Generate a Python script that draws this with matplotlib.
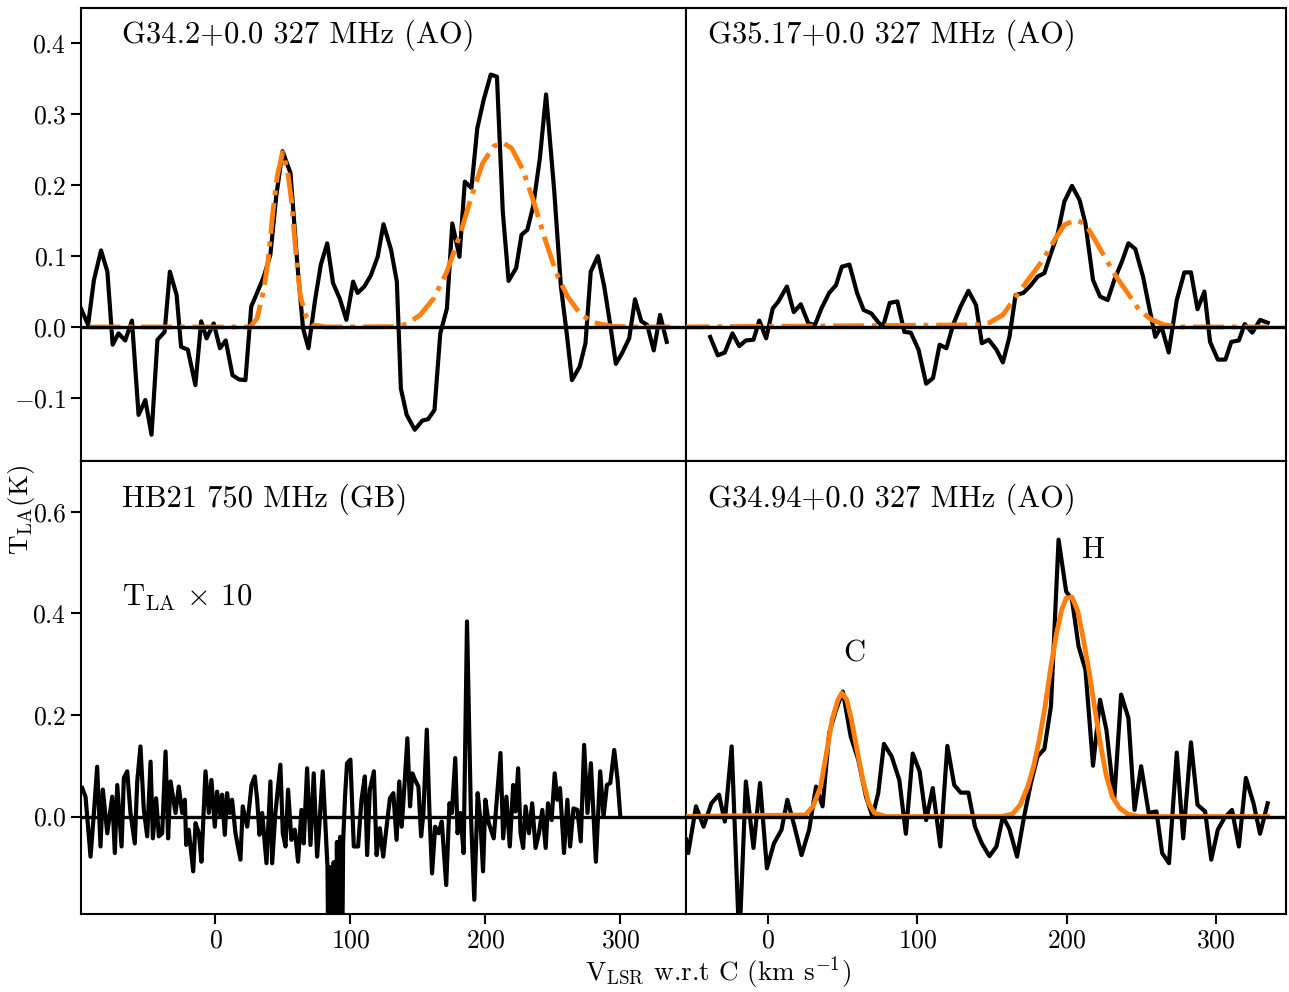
import matplotlib
matplotlib.use("Agg")
import matplotlib.pyplot as plt

plt.rcParams['font.family'] = 'serif'
plt.rcParams['font.serif'] = ['cmr10']
plt.rcParams['mathtext.fontset'] = 'cm'
plt.rcParams['axes.formatter.use_mathtext'] = True

# ---------------- data ----------------
# G34.2+0.0 327 MHz (AO)
g342_v = [-99.7, -94.4, -90.1, -84.8, -80.1, -76.2, -71.9, -66.9, -61.9, -57.0, -52.0, -47.4, -43.0,
          -37.7, -33.8, -28.8, -25.5, -20.5, -14.9, -10.6, -6.6, -1.3, 3.3, 7.6, 12.6, 17.5, 22.2,
          26.5, 30.8, 35.8, 40.7, 45.0, 49.7, 55.6, 60.6, 64.9, 68.9, 73.8, 78.1, 82.8, 87.1, 92.1,
          97.0, 102.0, 105.3, 110.3, 115.2, 120.2, 124.5, 130.1, 134.4, 137.4, 141.7, 147.7, 153.3,
          157.6, 162.3, 166.6, 171.5, 175.5, 180.8, 184.8, 189.7, 194.0, 198.7, 204.0, 208.6, 212.9,
          217.2, 222.8, 226.8, 231.1, 235.4, 240.4, 245.0, 251.0, 256.0, 260.3, 264.2, 269.9, 274.2,
          278.1, 283.4, 288.1, 292.4, 296.7, 301.3, 306.6, 310.9, 315.6, 319.9, 324.8, 329.5, 334.4]
g342_t = [0.026, 0.003, 0.066, 0.108, 0.078, -0.025, -0.009, -0.019, 0.009, -0.124, -0.103, -0.152,
          -0.018, -0.007, 0.078, 0.045, -0.028, -0.032, -0.082, 0.008, -0.016, 0.005, -0.030, -0.019,
          -0.068, -0.074, -0.075, 0.029, 0.048, 0.071, 0.102, 0.184, 0.248, 0.217, 0.090, -0.002,
          -0.030, 0.038, 0.088, 0.118, 0.062, 0.040, 0.010, 0.064, 0.048, 0.057, 0.073, 0.099, 0.145,
          0.109, 0.064, -0.087, -0.124, -0.145, -0.132, -0.130, -0.117, -0.009, 0.026, 0.146, 0.099,
          0.205, 0.196, 0.280, 0.320, 0.356, 0.353, 0.163, 0.065, 0.083, 0.130, 0.137, 0.170, 0.238,
          0.328, 0.193, 0.057, -0.009, -0.075, -0.056, -0.023, 0.078, 0.100, 0.057, 0.005, -0.052,
          -0.037, -0.016, 0.039, 0.008, 0.003, -0.033, 0.017, -0.021]
g342_fit_v = [-93.4, 25.8, 30.8, 35.8, 39.1, 42.4, 45.7, 49.7, 53.3, 56.3, 59.6, 62.9, 67.2, 72.2, 82.1,
              131.8, 141.7, 151.7, 161.6, 171.5, 181.5, 189.7, 198.0, 206.3, 212.9, 219.5, 227.8,
              236.1, 244.4, 252.6, 260.9, 270.9, 280.8, 294.0, 310.6, 337.1]
g342_fit_t = [0.0, 0.0, 0.012, 0.052, 0.095, 0.160, 0.212, 0.246, 0.222, 0.179, 0.104, 0.043, 0.015,
              0.003, 0.0, 0.0005, 0.004, 0.017, 0.040, 0.078, 0.132, 0.184, 0.231, 0.255, 0.260, 0.252,
              0.222, 0.175, 0.123, 0.076, 0.043, 0.017, 0.006, 0.001, 0.0, 0.0]

# G35.17+0.0 327 MHz (AO)
g3517_v = [-38.8, -33.7, -29.0, -23.9, -19.3, -14.9, -9.8, -5.9, -1.3, 3.1, 6.9, 12.6, 17.2, 21.9, 27.0,
           31.4, 35.7, 40.9, 45.5, 49.4, 54.5, 59.6, 64.0, 69.2, 73.3, 76.9, 81.5, 86.6, 91.3, 95.6,
           100.8, 105.9, 110.5, 114.9, 119.5, 123.9, 129.0, 134.2, 139.3, 143.2, 147.8, 153.0, 157.3,
           161.7, 165.8, 171.0, 176.1, 180.5, 185.1, 189.5, 194.1, 198.5, 203.6, 208.7, 212.6, 217.7,
           222.4, 227.5, 231.9, 237.0, 241.4, 246.0, 251.2, 255.0, 259.4, 263.5, 268.4, 273.8, 278.9,
           283.3, 287.7, 292.3, 296.1, 301.3, 306.4, 310.3, 315.4, 319.3, 324.4, 329.6, 334.7]
g3517_t = [-0.014, -0.040, -0.036, -0.009, -0.027, -0.019, -0.018, 0.009, -0.016, 0.026, 0.036, 0.057,
           0.021, 0.032, 0.005, 0.003, 0.026, 0.048, 0.059, 0.085, 0.088, 0.048, 0.024, 0.019, 0.008,
           0.0, 0.034, 0.036, -0.007, -0.008, -0.032, -0.080, -0.072, -0.025, -0.030, 0.003, 0.029,
           0.051, 0.031, -0.023, -0.018, -0.032, -0.050, -0.014, 0.045, 0.048, 0.059, 0.071, 0.076,
           0.104, 0.132, 0.177, 0.199, 0.179, 0.146, 0.066, 0.043, 0.038, 0.066, 0.092, 0.118, 0.110,
           0.071, 0.031, -0.014, 0.001, -0.036, 0.038, 0.077, 0.077, 0.025, 0.050, -0.021, -0.046,
           -0.046, -0.021, -0.019, 0.004, -0.008, 0.010, 0.006]
g3517_fit_v = [-60.0, 140.6, 148.3, 157.3, 165.0, 174.0, 184.3, 192.0, 198.5, 206.2, 212.6, 219.0,
               225.4, 233.2, 240.9, 248.6, 256.3, 265.3, 276.9, 334.7]
g3517_fit_t = [0.0, 0.003, 0.006, 0.017, 0.040, 0.066, 0.095, 0.123, 0.144, 0.151, 0.145, 0.123,
               0.099, 0.071, 0.048, 0.024, 0.011, 0.003, 0.0, 0.0]

# HB21 750 MHz (GB), T_LA x 10
hb21_v = [-98.8, -96.3, -92.6, -90.1, -87.7, -85.2, -83.5, -80.2, -76.5, -74.6, -72.8, -69.6, -67.9,
          -65.4, -63.0, -59.8, -58.0, -55.6, -53.1, -50.6, -48.1, -46.4, -44.0, -42.0, -39.5, -37.0,
          -35.1, -33.3, -29.6, -27.2, -24.7, -22.7, -21.7, -19.8, -16.5, -14.8, -12.3, -10.4, -7.4,
          -4.9, -3.0, -0.5, 1.2, 3.7, 4.9, 6.9, 8.6, 10.4, 12.3, 14.8, 18.5, 20.2, 23.5, 26.7, 29.1,
          30.9, 32.6, 34.6, 37.8, 40.7, 42.0, 44.4, 46.4, 48.1, 49.9, 51.9, 53.8, 56.3, 58.8, 61.2,
          63.7, 65.4, 67.9, 70.4, 72.8, 75.3, 76.5, 79.5, 81.5, 83.0, 84.0, 85.2, 86.4, 87.6, 88.8,
          90.0, 91.2, 92.4, 93.6, 94.6, 96.0, 97.5, 100.0, 102.5, 105.7, 108.2, 110.7, 112.4, 114.4,
          117.4, 119.4, 121.8, 124.3, 126.8, 129.3, 131.8, 134.2, 136.2, 138.0, 140.0, 142.2, 144.2,
          145.9, 147.9, 150.4, 152.4, 154.1, 156.6, 158.6, 160.5, 162.8, 165.3, 167.7, 171.0, 173.4,
          175.2, 177.7, 179.4, 181.4, 183.9, 186.4, 189.3, 191.8, 194.3, 196.3, 198.3, 200.0, 202.5,
          206.2, 211.2, 213.2, 215.6, 218.1, 220.6, 222.3, 224.3, 226.1, 228.0, 229.8, 232.3, 234.7,
          237.2, 239.7, 242.2, 244.7, 246.4, 249.1, 251.4, 253.3, 255.3, 258.3, 260.8, 262.8, 265.3,
          268.2, 270.7, 273.2, 275.7, 278.2, 281.9, 285.1, 287.6, 290.1, 292.6, 295.5, 298.0, 300.0]
hb21_t = [0.056, 0.039, -0.079, 0.007, 0.098, -0.059, 0.053, -0.033, 0.039, -0.072, 0.062, -0.059,
          0.076, 0.089, 0.007, -0.053, 0.069, 0.138, 0.013, -0.039, 0.108, -0.043, 0.036, -0.039,
          -0.033, 0.128, -0.043, 0.069, 0.007, 0.059, 0.007, 0.033, -0.056, -0.026, -0.108, -0.013,
          -0.033, -0.089, 0.089, 0.007, 0.072, -0.020, 0.049, 0.0, 0.043, -0.036, 0.046, 0.007, 0.033,
          -0.033, -0.085, 0.020, -0.020, 0.062, 0.079, 0.033, -0.036, 0.007, -0.092, 0.069, -0.092,
          0.007, 0.059, 0.102, -0.033, -0.059, 0.053, -0.046, -0.026, -0.089, 0.013, -0.053, 0.095,
          -0.056, 0.085, -0.079, -0.036, 0.089, -0.020, -0.099, -0.40, -0.10, -0.40, -0.09, -0.40,
          -0.05, -0.40, -0.04, -0.40, -0.05, 0.039, 0.105, 0.112, -0.059, -0.059, 0.033, 0.079,
          -0.076, 0.053, 0.089, -0.076, -0.023, -0.079, -0.020, 0.036, 0.046, -0.046, 0.069, -0.020,
          0.059, 0.154, 0.020, 0.085, 0.072, 0.059, -0.039, 0.007, 0.171, 0.007, -0.112, -0.020,
          -0.033, -0.010, -0.135, 0.026, 0.007, 0.115, -0.033, 0.007, -0.072, 0.384, 0.003, -0.164,
          0.046, -0.007, -0.108, 0.033, -0.013, -0.043, 0.125, -0.043, 0.039, -0.059, 0.062, 0.010,
          0.095, -0.033, -0.062, 0.020, -0.033, 0.026, -0.062, -0.033, 0.013, -0.062, 0.026, -0.007,
          0.085, 0.033, 0.056, -0.072, 0.033, -0.059, 0.016, 0.013, -0.049, 0.141, 0.007, 0.105,
          -0.089, 0.089, 0.0, 0.062, 0.066, 0.131, 0.072, 0.0]

# G34.94+0.0 327 MHz (AO)
g3494_v = [-55.0, -53.5, -48.3, -43.2, -38.0, -32.9, -29.0, -24.4, -19.3, -14.9, -9.8, -5.4, -0.8,
           3.9, 9.0, 12.9, 17.7, 22.4, 27.5, 32.1, 36.5, 40.9, 45.5, 50.1, 55.3, 60.4, 65.6, 69.9,
           73.8, 77.6, 82.8, 87.9, 92.3, 96.9, 101.5, 105.9, 110.3, 115.4, 120.1, 124.7, 129.0, 134.2,
           138.6, 143.2, 148.3, 153.0, 157.3, 161.7, 166.8, 171.5, 176.1, 180.5, 185.1, 189.5, 194.6,
           199.7, 203.6, 208.0, 212.6, 217.7, 222.4, 226.7, 231.9, 236.5, 241.4, 245.5, 249.9, 255.0,
           260.2, 264.0, 268.6, 273.8, 278.1, 283.3, 287.7, 292.8, 296.9, 301.3, 305.7, 310.8, 315.4,
           320.1, 325.2, 329.6, 334.7]
g3494_t = [-0.045, -0.072, 0.020, -0.020, 0.026, 0.043, -0.010, 0.138, -0.25, 0.069, -0.062, 0.066,
           -0.102, -0.053, -0.026, 0.033, -0.020, -0.076, -0.026, 0.059, 0.020, 0.164, 0.210, 0.246,
           0.158, 0.112, 0.039, 0.0, 0.046, 0.143, 0.118, 0.072, -0.034, 0.124, 0.089, -0.007, 0.056,
           -0.059, 0.139, 0.062, 0.047, 0.047, -0.020, -0.053, -0.078, -0.059, 0.0, -0.025, -0.079,
           0.0, 0.066, 0.118, 0.133, 0.217, 0.545, 0.443, 0.427, 0.335, 0.289, 0.100, 0.230, 0.170,
           0.033, 0.240, 0.194, 0.013, 0.099, 0.007, 0.010, -0.072, -0.092, 0.126, -0.043, 0.146,
           0.023, 0.010, -0.085, -0.026, -0.003, 0.013, -0.059, 0.076, 0.026, -0.034, 0.026]
g3494_fit_v = [-60.0, 24.9, 30.1, 35.2, 39.1, 42.9, 46.8, 49.4, 52.7, 55.8, 59.6, 63.5, 67.4, 71.2,
               78.9, 156.0, 163.8, 168.9, 174.0, 177.9, 181.7, 185.6, 189.5, 193.3, 196.7, 199.7,
               203.6, 207.5, 211.3, 215.2, 219.0, 222.9, 226.7, 230.6, 235.7, 240.9, 248.6, 334.7]
g3494_fit_t = [0.0, 0.003, 0.020, 0.059, 0.125, 0.191, 0.230, 0.243, 0.230, 0.191, 0.131, 0.072,
               0.026, 0.007, 0.0, 0.0, 0.005, 0.023, 0.059, 0.099, 0.151, 0.217, 0.296, 0.361, 0.407,
               0.430, 0.432, 0.404, 0.348, 0.283, 0.210, 0.138, 0.079, 0.039, 0.016, 0.005, 0.0, 0.0]

titles = ["G34.2+0.0 327 MHz (AO)", "G35.17+0.0 327 MHz (AO)",
          "HB21 750 MHz (GB)", "G34.94+0.0 327 MHz (AO)"]
top_yticks = [-0.1, 0.0, 0.1, 0.2, 0.3, 0.4]
bot_yticks = [0.0, 0.2, 0.4, 0.6]
xticks = [0, 100, 200, 300]

# ---------------- figure ----------------
fig = plt.figure(figsize=(12.89, 9.92), dpi=100)
L, M, R = 0.0628, 0.5322, 0.9977
B, H, T = 0.0786, 0.5353, 0.992
ax_tl = fig.add_axes([L, H, M - L, T - H])
ax_tr = fig.add_axes([M, H, R - M, T - H])
ax_bl = fig.add_axes([L, B, M - L, H - B])
ax_br = fig.add_axes([M, B, R - M, H - B])

orange = '#ff7f0e'
DLW, FLW, ZLW = 3.0, 3.5, 2.4

ax_tl.plot(g342_v, g342_t, color='k', lw=DLW, zorder=2)
ax_tl.plot(g342_fit_v, g342_fit_t, color=orange, lw=FLW, ls='-.', zorder=3)
ax_tr.plot(g3517_v, g3517_t, color='k', lw=DLW, zorder=2)
ax_tr.plot(g3517_fit_v, g3517_fit_t, color=orange, lw=FLW, ls='-.', zorder=3)
ax_bl.plot(hb21_v, hb21_t, color='k', lw=DLW, zorder=2)
ax_br.plot(g3494_v, g3494_t, color='k', lw=DLW, zorder=2)
ax_br.plot(g3494_fit_v, g3494_fit_t, color=orange, lw=FLW, ls='-', zorder=3)

for ax in (ax_tl, ax_tr, ax_bl, ax_br):
    ax.axhline(0, color='k', lw=ZLW, zorder=4)
    for s in ax.spines.values():
        s.set_linewidth(1.5)
    ax.tick_params(labelsize=18.5, length=7, width=1.5, direction='out')

for ax in (ax_tl, ax_bl):
    ax.set_xlim(-99.7, 348.7)
for ax in (ax_tr, ax_br):
    ax.set_xlim(-55.0, 347.0)
for ax in (ax_tl, ax_tr):
    ax.set_ylim(-0.189, 0.450)
    ax.set_yticks(top_yticks)
    ax.tick_params(bottom=False, labelbottom=False)
for ax in (ax_bl, ax_br):
    ax.set_ylim(-0.192, 0.700)
    ax.set_yticks(bot_yticks)
    ax.set_xticks(xticks)
for ax in (ax_tr, ax_br):
    ax.tick_params(left=False, labelleft=False)

tfs = 22
ax_tl.text(0.068, 0.940, titles[0], transform=ax_tl.transAxes, fontsize=tfs, va='center', ha='left')
ax_tr.text(0.037, 0.940, titles[1], transform=ax_tr.transAxes, fontsize=tfs, va='center', ha='left')
ax_bl.text(0.068, 0.916, titles[2], transform=ax_bl.transAxes, fontsize=tfs, va='center', ha='left')
ax_br.text(0.037, 0.916, titles[3], transform=ax_br.transAxes, fontsize=tfs, va='center', ha='left')
ax_bl.text(0.068, 0.698, r'T$_{\rm LA}$ $\times$ 10', transform=ax_bl.transAxes, fontsize=tfs,
           va='center', ha='left')
ax_br.text(57.6, 0.32, 'C', fontsize=tfs, va='center', ha='center')
ax_br.text(217.7, 0.525, 'H', fontsize=tfs, va='center', ha='center')

fig.text(0.017, 0.486, r'T$_{\rm LA}$(K)', rotation=90, fontsize=19.5, va='center', ha='center')
fig.text(0.557, 0.020, r'V$_{\rm LSR}$ w.r.t C (km s$^{-1}$)', fontsize=19.5, va='center', ha='center')

fig.savefig('out.png', dpi=100)
